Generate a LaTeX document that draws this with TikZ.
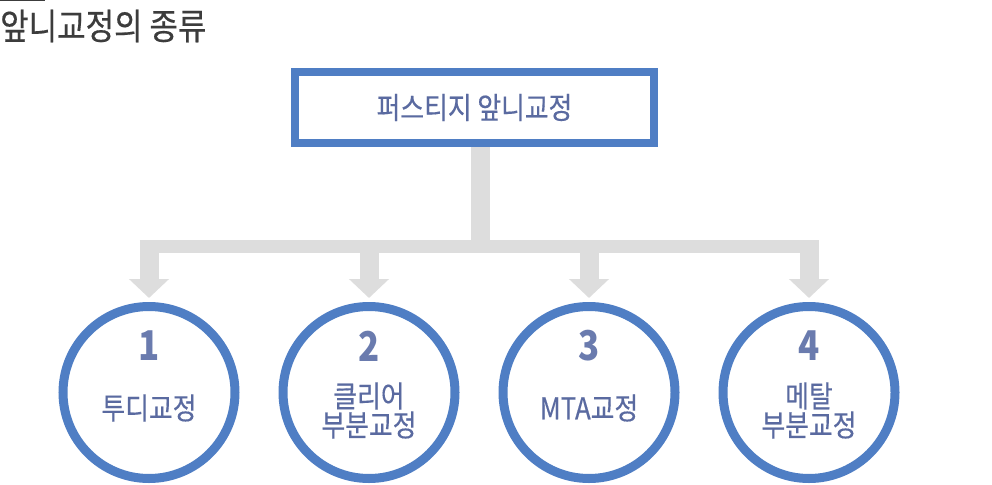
\documentclass[tikz,border=0pt]{standalone}
\usepackage{fontspec}
\newfontfamily\kr[FakeStretch=0.86,FakeBold=0.4]{Noto Sans CJK KR}
\newfontfamily\krnum[FakeStretch=0.85]{Noto Sans CJK KR}
\usetikzlibrary{arrows.meta,backgrounds,calc}
\definecolor{boxblue}{HTML}{4F7EC4}
\definecolor{txtblue}{HTML}{5A6AA0}
\definecolor{numblue}{HTML}{6A7BAE}
\definecolor{conngray}{HTML}{DDDDDD}
\definecolor{titlegray}{HTML}{3C3C3C}
\tikzset{
  topbox/.style={rectangle, draw=boxblue, line width=8pt, minimum width=359pt, minimum height=71pt,
    fill=white, text=txtblue, font=\kr\fontsize{30}{33}\selectfont, inner sep=0pt, outer sep=0pt},
  circ/.style={circle, draw=boxblue, line width=9pt, minimum size=172pt, fill=white, inner sep=0pt, outer sep=0pt},
  numtxt/.style={text=numblue, font=\krnum\bfseries\fontsize{41}{44}\selectfont, inner sep=0pt},
  lbltxt/.style={text=txtblue, font=\kr\fontsize{30}{29}\selectfont, inner sep=0pt, align=center},
  titletxt/.style={text=titlegray, font=\kr\fontsize{36}{38}\selectfont, inner sep=0pt},
  stemline/.style={draw=conngray, line width=19pt},
  barline/.style={draw=conngray, line width=13pt},
  arrline/.style={draw=conngray, line width=19pt, -{Triangle[width=39pt,length=19pt]}},
}
\begin{document}
\begin{tikzpicture}[x=1pt,y=-1pt]
\useasboundingbox (0,0) rectangle (992,484);
% title
\draw[titlegray, line width=1.5pt] (0,0.75) -- (45,0.75);
\node[titletxt, anchor=west] (title) at (0,26) {앞니교정의 종류};
% top box
\node[topbox] (top) at (474.5,107.5) {퍼스티지 앞니교정};
% circles
\node[circ] (c1) at (149,392.5) {};
\node[circ] (c2) at (369,392.5) {};
\node[circ] (c3) at (589,392.5) {};
\node[circ] (c4) at (809,392.5) {};
% numbers
\node[numtxt] (n1) at (149,346) {1};
\node[numtxt] (n2) at (369,346) {2};
\node[numtxt] (n3) at (589,346) {3};
\node[numtxt] (n4) at (809,346) {4};
% labels
\node[lbltxt] (l1) at (149,408) {투디교정};
\node[lbltxt] (l2) at (369,410.5) {클리어\\부분교정};
\node[lbltxt] (l3) at (589,408) {MTA교정};
\node[lbltxt] (l4) at (809,410.5) {메탈\\부분교정};
% connectors
\coordinate (j) at (480.5,246.5);
\begin{pgfonlayer}{background}
\draw[stemline] (j |- top.south) -- (j);
\draw[barline] ($(c1 |- j)+(-9.5,0)$) -- ($(c4 |- j)+(9.5,0)$);
\foreach \c in {c1,c2,c3,c4}{
  \draw[arrline] (\c |- j) -- ($(\c.north)+(0,-8.5)$);
}
\end{pgfonlayer}
\end{tikzpicture}
\end{document}
